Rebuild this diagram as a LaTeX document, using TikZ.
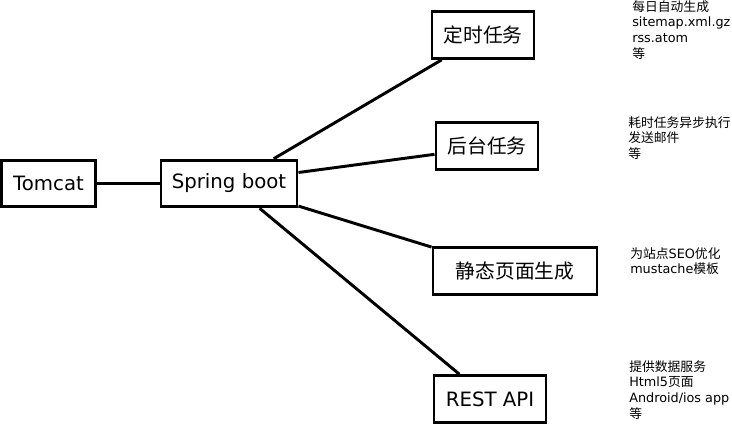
\documentclass[tikz,border=0pt]{standalone}
\usepackage{fontspec}
\setmainfont{DejaVu Sans}
\newfontfamily\cjk{Noto Sans CJK SC}
\tikzset{
  box/.style={draw, line width=2.2pt, inner sep=0pt, minimum height=35pt, font=\fontsize{14.8}{16}\selectfont},
  note/.style={anchor=north west, inner sep=0pt, align=left, font=\fontsize{9.6}{11.8}\selectfont},
  link/.style={line width=2.2pt}
}
\begin{document}
\begin{tikzpicture}[x=0.75pt, y=-0.75pt]
  \useasboundingbox (0,0) rectangle (732,425);

  % 主干节点
  \node[box, minimum width=70pt] (tomcat) at (48.5,183.5) {Tomcat};
  \node[box, minimum width=102pt] (spring) at (229,183.5) {Spring boot};

  % 各类任务节点
  \node[box, minimum width=76.5pt] (timer) at (483,35) {\cjk 定时任务};
  \node[box, minimum width=76.5pt] (backend) at (487,146) {\cjk 后台任务};
  \node[box, minimum width=123pt] (static) at (515,271) {\cjk 静态页面生成};
  \node[box, minimum width=84pt] (rest) at (490,399) {REST API};

  % 右侧说明文字
  \node[note] (timernote) at (632,0) {{\cjk 每日自动生成}\\sitemap.xml.gz\\rss.atom\\{\cjk 等}};
  \node[note] (backendnote) at (628,116) {{\cjk 耗时任务异步执行}\\{\cjk 发送邮件}\\{\cjk 等}};
  \node[note] (staticnote) at (630,247) {{\cjk 为站点}SEO{\cjk 优化}\\mustache{\cjk 模板}};
  \node[note] (restnote) at (629,360) {{\cjk 提供数据服务}\\Html5{\cjk 页面}\\Android/ios app\\{\cjk 等}};

  % 连线
  \draw[link] (tomcat) -- (spring);
  \draw[link] (spring.29) -- (timer.211);
  \draw[link] (spring.9) -- (backend.189);
  \draw[link] (spring.-18) -- (static.164);
  \draw[link] (spring.-39) -- (rest.141);
\end{tikzpicture}
\end{document}
